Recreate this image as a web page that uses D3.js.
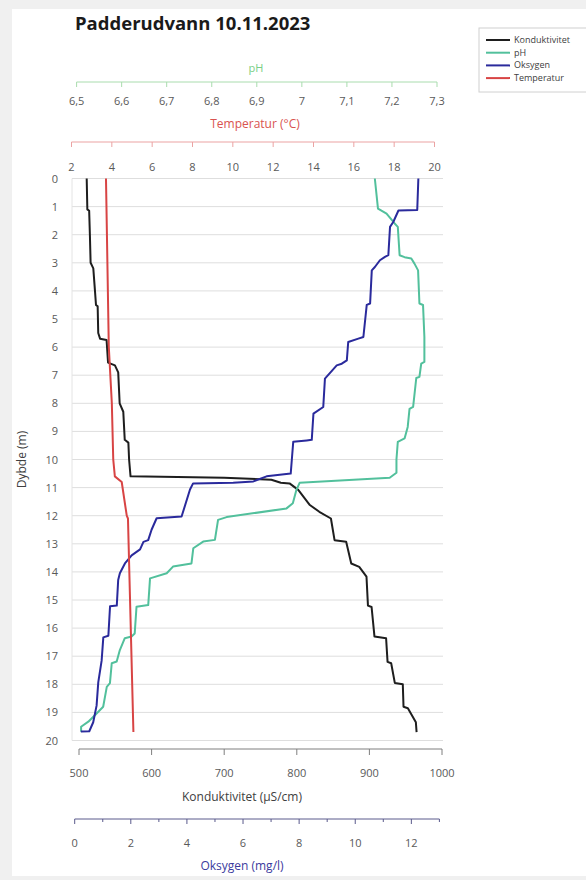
<!DOCTYPE html>
<html>
<head>
<meta charset="utf-8">
<script src="https://cdn.jsdelivr.net/npm/d3@7"></script>
<style>
  body { margin: 0; background: #f0f0f0; }
  svg { display: block; font-family: "Open Sans", "Liberation Sans", sans-serif; }
</style>
</head>
<body>
<svg id="chart" width="586" height="880"></svg>
<script>
// series data (depth in m)
const condDepth = [0, 1.1, 1.15, 2, 3, 3.2, 4, 4.5, 4.55, 5.5, 5.7, 5.75, 6.55, 6.65, 6.9, 8, 8.3, 9.3, 9.4, 10, 10.6, 10.65, 10.72, 10.83, 10.85, 11.08, 11.62, 11.86, 12.1, 12.87, 12.93, 13.7, 13.82, 14.17, 15.2, 15.25, 16.3, 16.36, 17.2, 17.25, 17.95, 18.0, 18.8, 18.85, 19.35, 19.7];
const condValue = [510.6, 511.5, 514, 515, 516, 519.7, 522, 523.4, 525.7, 526.5, 529, 538, 540, 549.5, 554, 556, 561, 563, 568, 569, 571, 700, 765, 778, 790, 802, 818, 831, 847, 852, 868, 875, 886, 896, 898, 903, 907, 923, 925, 930, 935, 946, 947, 953, 964, 965];

const phDepth = [0, 1.07, 1.25, 1.6, 1.72, 2.73, 2.8, 2.85, 3.03, 3.27, 4.45, 4.5, 5.64, 6.53, 6.59, 7.06, 7.1, 8.13, 8.2, 8.84, 9.25, 9.37, 10, 10.47, 10.65, 10.83, 11.08, 11.56, 11.74, 12.05, 12.15, 12.86, 12.92, 13.16, 13.7, 13.81, 14.05, 14.23, 15.18, 15.24, 16.19, 16.3, 16.36, 16.78, 17.19, 17.25, 17.96, 18.09, 18.8, 19.03, 19.33, 19.51, 19.69];
const phValue = [7.162, 7.169, 7.188, 7.206, 7.213, 7.217, 7.228, 7.243, 7.25, 7.258, 7.261, 7.269, 7.272, 7.272, 7.265, 7.261, 7.254, 7.247, 7.239, 7.235, 7.228, 7.213, 7.21, 7.21, 7.195, 6.995, 6.988, 6.98, 6.966, 6.833, 6.814, 6.807, 6.781, 6.759, 6.755, 6.714, 6.7, 6.663, 6.659, 6.633, 6.629, 6.622, 6.607, 6.596, 6.589, 6.578, 6.574, 6.567, 6.559, 6.545, 6.526, 6.51, 6.51];

const oxDepth = [0, 1.12, 1.14, 1.54, 1.72, 2.73, 2.79, 2.91, 3.15, 3.27, 4.45, 4.5, 5.64, 5.7, 5.82, 6.47, 6.59, 6.65, 7.12, 8.13, 8.37, 9.3, 9.32, 9.37, 10, 10.5, 10.6, 10.78, 10.83, 10.85, 11.07, 12.03, 12.09, 12.5, 12.87, 12.93, 13.2, 13.41, 13.7, 14.05, 14.29, 15.2, 15.22, 16.27, 16.33, 17.16, 17.93, 18.76, 19.35, 19.67, 19.68];
const oxValue = [12.25, 12.21, 11.54, 11.36, 11.24, 11.18, 11.06, 10.88, 10.7, 10.59, 10.53, 10.41, 10.29, 10.11, 9.75, 9.7, 9.52, 9.34, 8.92, 8.86, 8.51, 8.45, 8.27, 7.79, 7.74, 7.7, 6.84, 6.37, 5.65, 4.22, 4.11, 3.81, 2.92, 2.74, 2.62, 2.45, 2.33, 2.03, 1.79, 1.61, 1.55, 1.5, 1.26, 1.2, 1.02, 0.96, 0.84, 0.78, 0.66, 0.52, 0.22];

const tempDepth = [0, 6, 8, 10, 10.6, 10.8, 12, 12.1, 19.7];
const tempValue = [3.71, 3.85, 4.0, 4.07, 4.15, 4.49, 4.74, 4.8, 5.07];

// tick labels
const depthTicks = d3.range(0, 21);
const phTicks = [6.5, 6.6, 6.7, 6.8, 6.9, 7, 7.1, 7.2, 7.3];
const tempTicks = [2, 4, 6, 8, 10, 12, 14, 16, 18, 20];
const condTicks = [500, 600, 700, 800, 900, 1000];
const oxTicks = [0, 2, 4, 6, 8, 10, 12];
const oxMinor = d3.range(0, 14);

const seriesNames = ['Konduktivitet', 'pH', 'Oksygen', 'Temperatur'];
const seriesColors = ['#1e1e1e', '#52c09c', '#2a2a9c', '#d84444'];

const svg = d3.select('#chart');

svg.append('rect').attr('x', 12).attr('y', 9).attr('width', 574).attr('height', 867).attr('fill', '#fff');

const y = d3.scaleLinear().domain([0, 20]).range([178.5, 740.5]);
const xCond = d3.scaleLinear().domain([500, 1000]).range([79, 442]);
const xPh = d3.scaleLinear().domain([6.5, 7.3]).range([76.6, 437]);
const xTemp = d3.scaleLinear().domain([2, 20]).range([71.5, 434.5]);
const xOx = d3.scaleLinear().domain([0, 13]).range([74.7, 439.4]);

const comma = v => String(+v.toFixed(1)).replace('.', ',');

// horizontal grid
svg.append('g')
    .selectAll('line')
    .data(depthTicks)
    .enter()
    .append('line')
    .attr('x1', 72)
    .attr('x2', 443)
    .attr('y1', d => y(d))
    .attr('y2', d => y(d))
    .attr('stroke', '#dedede')
    .attr('stroke-width', 1);

svg.append('line')
    .attr('x1', 72).attr('x2', 72)
    .attr('y1', y(0)).attr('y2', y(20))
    .attr('stroke', '#e4e4e4');

// depth axis labels
svg.append('g')
    .selectAll('text')
    .data(depthTicks)
    .enter()
    .append('text')
    .attr('x', 58)
    .attr('y', d => y(d) + 4)
    .attr('text-anchor', 'end')
    .attr('font-size', 11)
    .attr('fill', '#595959')
    .text(d => d);

svg.append('text')
    .attr('transform', `translate(26, ${y(10)}) rotate(-90)`)
    .attr('text-anchor', 'middle')
    .attr('font-size', 12)
    .attr('fill', '#404040')
    .text('Dybde (m)');

// horizontal axis helper
const drawAxis = (scale, ticks, yPos, lineColor, labelY, fmt, tickUp, tickDown) => {
    const g = svg.append('g');
    g.append('line')
        .attr('x1', scale.range()[0]).attr('x2', scale.range()[1])
        .attr('y1', yPos).attr('y2', yPos)
        .attr('stroke', lineColor);
    g.selectAll('line.tick')
        .data(ticks)
        .enter()
        .append('line')
        .attr('class', 'tick')
        .attr('x1', d => scale(d)).attr('x2', d => scale(d))
        .attr('y1', yPos - tickUp).attr('y2', yPos + tickDown)
        .attr('stroke', lineColor);
    g.selectAll('text')
        .data(ticks)
        .enter()
        .append('text')
        .attr('x', d => scale(d))
        .attr('y', labelY)
        .attr('text-anchor', 'middle')
        .attr('font-size', 11)
        .attr('fill', '#595959')
        .text(fmt);
    return g;
};

drawAxis(xPh, phTicks, 82, '#a9dcae', 105, comma, 0, 5);
drawAxis(xTemp, tempTicks, 142, '#eba3a3', 171, d => d, 0, 5);
drawAxis(xCond, condTicks, 749, '#7f7f7f', 777, d => d, 0, 6);
const oxAxis = drawAxis(xOx, oxTicks, 819, '#5a5a8c', 847, d => d, 0, 5);
oxAxis.selectAll('line.minor')
    .data(oxMinor.filter(d => d % 2))
    .enter()
    .append('line')
    .attr('x1', d => xOx(d)).attr('x2', d => xOx(d))
    .attr('y1', 819).attr('y2', 822)
    .attr('stroke', '#5a5a8c');

// axis titles
const titles = [
    { t: 'pH', x: 256, y: 72, c: '#79cf86', s: 11 },
    { t: 'Temperatur (°C)', x: 255, y: 128, c: '#d9534f', s: 12 },
    { t: 'Konduktivitet (µS/cm)', x: 242, y: 801, c: '#404040', s: 12 },
    { t: 'Oksygen (mg/l)', x: 242, y: 870, c: '#3b3b9e', s: 12 }
];
svg.append('g')
    .selectAll('text')
    .data(titles)
    .enter()
    .append('text')
    .attr('x', d => d.x)
    .attr('y', d => d.y)
    .attr('text-anchor', 'middle')
    .attr('font-size', d => d.s)
    .attr('fill', d => d.c)
    .text(d => d.t);

svg.append('text')
    .attr('x', 75)
    .attr('y', 30)
    .attr('font-size', 18.5)
    .attr('font-weight', 'bold')
    .attr('fill', '#1a1a1a')
    .text('Padderudvann 10.11.2023');

// series lines
const series = [
    { depth: condDepth, value: condValue, x: xCond },
    { depth: phDepth, value: phValue, x: xPh },
    { depth: oxDepth, value: oxValue, x: xOx },
    { depth: tempDepth, value: tempValue, x: xTemp }
];

series.forEach((s, i) => {
    const line = d3.line()
        .x(d => s.x(d[1]))
        .y(d => y(d[0]));
    svg.append('path')
        .datum(d3.zip(s.depth, s.value))
        .attr('d', line)
        .attr('fill', 'none')
        .attr('stroke', seriesColors[i])
        .attr('stroke-width', 2)
        .attr('stroke-linejoin', 'round');
});

// legend
const legend = svg.append('g').attr('transform', 'translate(479, 28)');
legend.append('rect')
    .attr('width', 120).attr('height', 64)
    .attr('fill', '#fff')
    .attr('stroke', '#d0d0d0');
legend.selectAll('line')
    .data(seriesNames)
    .enter()
    .append('line')
    .attr('x1', 7).attr('x2', 31)
    .attr('y1', (d, i) => 12 + i * 12.7)
    .attr('y2', (d, i) => 12 + i * 12.7)
    .attr('stroke', (d, i) => seriesColors[i])
    .attr('stroke-width', 2);
legend.selectAll('text')
    .data(seriesNames)
    .enter()
    .append('text')
    .attr('x', 35)
    .attr('y', (d, i) => 15 + i * 12.7)
    .attr('font-size', 9)
    .attr('fill', '#404040')
    .text(d => d);
</script>
</body>
</html>
